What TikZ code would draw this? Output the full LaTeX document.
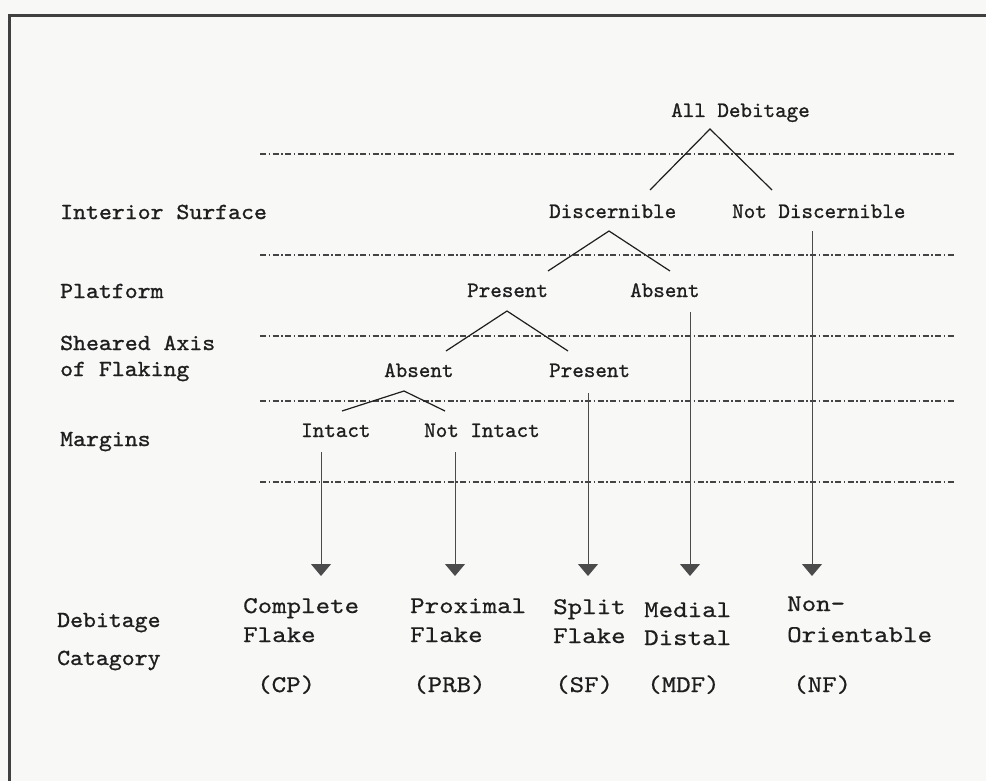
\documentclass[tikz,border=0pt]{standalone}
\usepackage{fontspec}
\usetikzlibrary{arrows.meta}
\newfontfamily\treefont[FakeBold=1]{lmmono10-regular.otf}
\newfontfamily\sidefont[FakeStretch=1.07,FakeBold=1]{lmmono10-regular.otf}
\newfontfamily\catfont[FakeStretch=1.15,FakeBold=0.6]{lmmono10-regular.otf}
\definecolor{paper}{HTML}{F8F8F7}
\definecolor{ink}{HTML}{1E1E1E}
\definecolor{rule}{HTML}{444444}
\begin{document}
\begin{tikzpicture}[x=1pt,y=-1pt,
  treelabel/.style={anchor=base west,inner sep=0pt,text=ink,font=\treefont\fontsize{22}{26}\selectfont},
  sidelabel/.style={anchor=base west,inner sep=0pt,text=ink,font=\sidefont\fontsize{23}{27}\selectfont},
  catlabel/.style={anchor=base west,inner sep=0pt,text=ink,font=\catfont\fontsize{24}{28}\selectfont},
  levelrule/.style={draw=rule,line width=1.5pt,dash pattern=on 6pt off 2.5pt on 1.5pt off 2.5pt},
  branch/.style={draw=ink,line width=1.2pt},
  drop/.style={draw=ink!80,line width=1pt,-{Triangle[width=20pt,length=12pt]}},
  frameline/.style={draw=ink!85,line width=3pt}]
\useasboundingbox (0,0) rectangle (986,781);
\fill[paper] (0,0) rectangle (986,781);
% frame
\draw[frameline] (9,781) -- (9,16) -- (986,16);

% level rules
\foreach \yy/\nm in {154/r1,255/r2,336/r3,401/r4,482/r5}{
  \coordinate (\nm a) at (260,\yy);
  \coordinate (\nm b) at (955,\yy);
  \draw[levelrule] (\nm a) -- (\nm b);
}

% left labels
\node[sidelabel] (lint) at (60,219) {Interior Surface};
\node[sidelabel] (lplat) at (60,298) {Platform};
\node[sidelabel] (lshear) at (60,350) {Sheared Axis};
\node[sidelabel] (lflak) at (60,376) {of Flaking};
\node[sidelabel] (lmarg) at (60,446) {Margins};
\node[sidelabel] (ldeb) at (57,627) {Debitage};
\node[sidelabel] (lcat) at (57,665) {Catagory};

% tree labels
\node[treelabel] (all) at (671,117) {All Debitage};
\node[treelabel] (disc) at (549,218) {Discernible};
\node[treelabel] (ndisc) at (732,218) {Not Discernible};
\node[treelabel] (pres) at (467,297) {Present};
\node[treelabel] (abs) at (630,297) {Absent};
\node[treelabel] (sabs) at (384,377) {Absent};
\node[treelabel] (spres) at (549,377) {Present};
\node[treelabel] (intact) at (301,437) {Intact};
\node[treelabel] (nintact) at (424,437) {Not Intact};

% branch points
\coordinate (apxall) at (710,129);
\coordinate (enddisc) at (650,190);
\coordinate (endndisc) at (772,190);
\coordinate (apxdisc) at (609,231);
\coordinate (endpres) at (548,271);
\coordinate (endabs) at (670,271);
\coordinate (apxpres) at (507,311);
\coordinate (endsabs) at (446,351);
\coordinate (endspres) at (568,351);
\coordinate (apxsabs) at (404,391);
\coordinate (endintact) at (342,411);
\coordinate (endnintact) at (445,411);

\draw[branch] (enddisc) -- (apxall) -- (endndisc);
\draw[branch] (endpres) -- (apxdisc) -- (endabs);
\draw[branch] (endsabs) -- (apxpres) -- (endspres);
\draw[branch] (endintact) -- (apxsabs) -- (endnintact);

% drops
\coordinate (tintact) at (321,452);
\coordinate (tnintact) at (455,452);
\coordinate (tspres) at (588,393);
\coordinate (tabs) at (690,312);
\coordinate (tndisc) at (812,231);
\coordinate (hcp) at (321,576);
\coordinate (hprb) at (455,576);
\coordinate (hsf) at (588,576);
\coordinate (hmdf) at (690,576);
\coordinate (hnf) at (812,576);
\draw[drop] (tintact) -- (hcp);
\draw[drop] (tnintact) -- (hprb);
\draw[drop] (tspres) -- (hsf);
\draw[drop] (tabs) -- (hmdf);
\draw[drop] (tndisc) -- (hnf);

% categories
\node[catlabel] (cpa) at (243,613) {Complete};
\node[catlabel] (cpb) at (243,642) {Flake};
\node[catlabel] (prba) at (410,613) {Proximal};
\node[catlabel] (prbb) at (410,642) {Flake};
\node[catlabel] (sfa) at (553,614) {Split};
\node[catlabel] (sfb) at (553,643) {Flake};
\node[catlabel] (mdfa) at (644,617) {Medial};
\node[catlabel] (mdfb) at (644,645) {Distal};
\node[catlabel] (nfa) at (787,611) {Non-};
\node[catlabel] (nfb) at (787,642) {Orientable};
\node[catlabel] (cpc) at (257,692) {(CP)};
\node[catlabel] (prbc) at (413,692) {(PRB)};
\node[catlabel] (sfc) at (555,692) {(SF)};
\node[catlabel] (mdfc) at (647,692) {(MDF)};
\node[catlabel] (nfc) at (793,692) {(NF)};
\end{tikzpicture}
\end{document}
